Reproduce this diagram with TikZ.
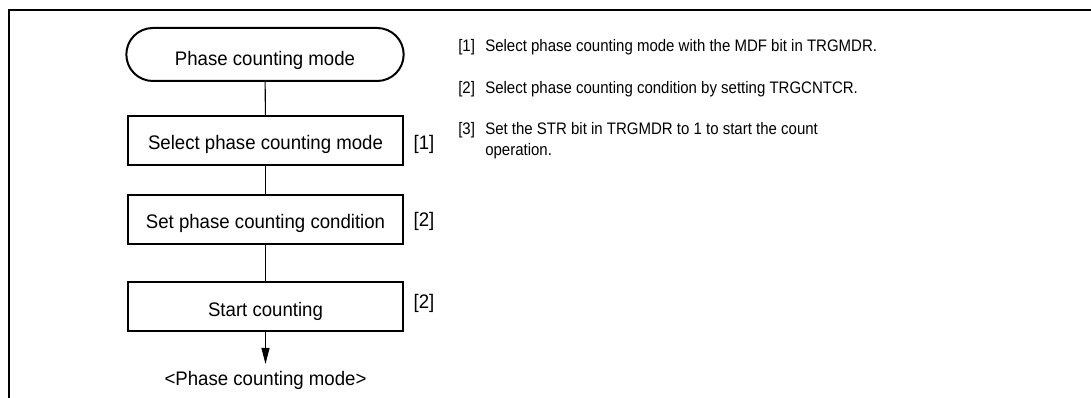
\documentclass[tikz,border=0pt]{standalone}
\usepackage{fontspec}
\setmainfont{Liberation Sans}
\newfontfamily\boxfont[FakeStretch=0.95]{Liberation Sans}
\newfontfamily\notefont[FakeStretch=0.9]{Liberation Sans}
\usetikzlibrary{shapes.misc,arrows.meta}
\begin{document}
\begin{tikzpicture}[x=0.75pt,y=-0.75pt,
  every node/.style={font=\boxfont\fontsize{14.7}{18}\selectfont},
  term/.style={draw, line width=1.5pt, rounded rectangle, minimum width=208pt, minimum height=39.75pt, inner sep=0pt, text height=16.5pt, text depth=0pt},
  stepbox/.style={draw, line width=1.5pt, minimum width=206.25pt, minimum height=36.75pt, inner sep=0pt, text height=14pt, text depth=0pt},
  link/.style={line width=0.8pt},
  tag/.style={inner sep=0pt},
  note/.style={inner sep=0pt, anchor=base west, align=left, font=\notefont\fontsize{12.5}{16}\selectfont}
]
\useasboundingbox (0,0) rectangle (1091,398);
\draw[line width=2pt] (1095,10) -- (9,10) -- (9,402);

\node[term] (t0) at (265,54.5) {Phase counting mode};
\node[stepbox] (b1) at (265.5,140.5) {Select phase counting mode};
\node[stepbox] (b2) at (265.5,219.5) {Set phase counting condition};
\node[stepbox] (b3) at (265.5,307) {Start counting};
\node[tag] (end) at (265.5,380) {<Phase counting mode>};
\coordinate (tip) at (265.5,364);

\draw[link] (t0) -- (b1);
\draw[link] (b1) -- (b2);
\draw[link] (b2) -- (b3);
\draw[link,-{Triangle[length=12pt,width=6pt]}] (b3) -- (tip);

\node[tag] (l1) at (424,144.5) {[1]};
\node[tag] (l2) at (424,221) {[2]};
\node[tag] (l3) at (424,303) {[2]};

\node[note] (n1) at (458,52) {[1]};
\node[note] (d1) at (485,52) {Select phase counting mode with the MDF bit in TRGMDR.};
\node[note] (n2) at (458,94) {[2]};
\node[note] (d2) at (485,94) {Select phase counting condition by setting TRGCNTCR.};
\node[note] (n3) at (458,135) {[3]};
\node[note] (d3) at (485,156) {Set the STR bit in TRGMDR to 1 to start the count\\operation.};
\end{tikzpicture}
\end{document}
